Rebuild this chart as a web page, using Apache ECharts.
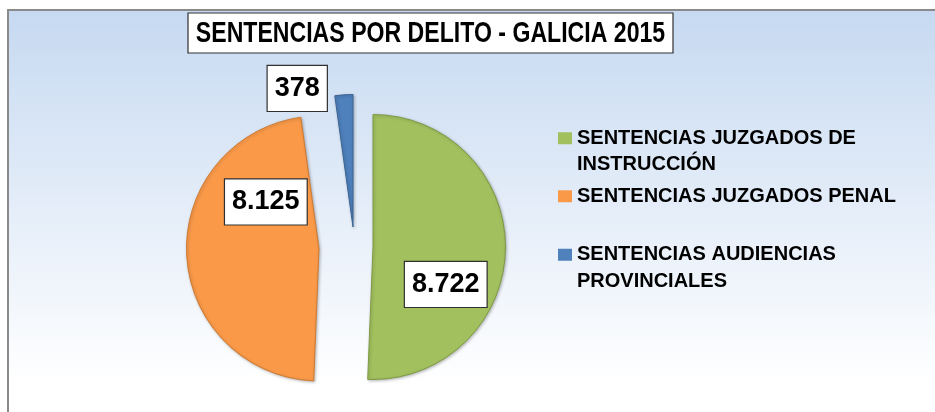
<!DOCTYPE html>
<html>
<head>
<meta charset="utf-8">
<script src="https://cdn.jsdelivr.net/npm/echarts@6/dist/echarts.min.js"></script>
<style>
  html, body { margin: 0; padding: 0; background: #ffffff; }
  #chart { width: 935px; height: 412px; }
</style>
</head>
<body>
<div id="chart"></div>
<script>
// ---- data ----
const titleText = 'SENTENCIAS POR DELITO - GALICIA 2015';
const categories = [
  'SENTENCIAS JUZGADOS DE INSTRUCCIÓN',
  'SENTENCIAS JUZGADOS PENAL',
  'SENTENCIAS AUDIENCIAS PROVINCIALES'
];
const legendLabels = [
  'SENTENCIAS JUZGADOS DE\nINSTRUCCIÓN',
  'SENTENCIAS JUZGADOS PENAL',
  'SENTENCIAS AUDIENCIAS\nPROVINCIALES'
];
const values = [8722, 8125, 378];

// ---- style ----
const colors = ['#A2C15E', '#FA9A49', '#4F81BD'];
const borderColors = ['#7F9A45', '#D07A30', '#3B6596'];
const sliceCenters = [[373, 247], [319, 248.5], [353, 227]];
const labelShift = [[3.5, 36], [16, -50], [-51, -69.5]];
const legendTops = [125, 183, 241.5];
const sans = "'Liberation Sans', Arial, sans-serif";

function fmt(v) {
  return String(v).replace(/\B(?=(\d{3})+(?!\d))/g, '.');
}

const chart = echarts.init(document.getElementById('chart'), null, { renderer: 'canvas' });

const series = categories.map(function (_, si) {
  return {
    type: 'pie',
    name: 'slice' + si,
    radius: 132.5,
    center: sliceCenters[si],
    startAngle: 90,
    clockwise: true,
    avoidLabelOverlap: false,
    animation: false,
    silent: true,
    labelLine: { show: false },
    emphasis: { disabled: true },
    labelLayout: function (p) {
      return { dx: labelShift[p.dataIndex][0], dy: labelShift[p.dataIndex][1] };
    },
    data: categories.map(function (name, i) {
      const own = i === si;
      return {
        name: name,
        value: values[i],
        itemStyle: own
          ? { color: colors[i], borderColor: borderColors[i], borderWidth: 1,
              shadowBlur: 3, shadowColor: 'rgba(0,0,0,0.25)', shadowOffsetX: 1, shadowOffsetY: 1 }
          : { color: 'rgba(0,0,0,0)', borderWidth: 0 },
        label: own
          ? {
              show: true,
              position: 'inside',
              formatter: function (p) { return fmt(p.value); },
              fontFamily: sans,
              fontWeight: 'bold',
              fontSize: 27,
              lineHeight: 27,
              color: '#000',
              backgroundColor: '#fff',
              borderColor: '#303030',
              borderWidth: 1.2,
              padding: [9, 7, 9, 7]
            }
          : { show: false }
      };
    })
  };
});

// legend icons: square aligned with the first text line
const iconOneLine = 'path://M0,0L14,0 M0,7.25L14,7.25L14,19.25L0,19.25Z M0,26.5L14,26.5';
const iconTwoLine = 'path://M0,0L14,0L14,12L0,12Z M0,38.5L14,38.5';

const legends = categories.map(function (name, i) {
  const twoLine = legendLabels[i].indexOf('\n') >= 0;
  return {
    orient: 'vertical',
    left: 558,
    top: legendTops[i],
    padding: 0,
    itemWidth: 14,
    itemHeight: twoLine ? 38.5 : 26.5,
    selectedMode: false,
    formatter: function (n) { return legendLabels[categories.indexOf(n)]; },
    textStyle: {
      fontFamily: sans,
      fontWeight: 'bold',
      fontSize: 20,
      lineHeight: 26.5,
      color: '#000'
    },
    data: [{
      name: name,
      icon: twoLine ? iconTwoLine : iconOneLine,
      itemStyle: { color: colors[i], borderWidth: 0 }
    }]
  };
});

const option = {
  backgroundColor: '#ffffff',
  animation: false,
  graphic: [{
    type: 'rect',
    z: -10,
    silent: true,
    shape: { x: 8, y: 10, width: 960, height: 440 },
    style: {
      fill: new echarts.graphic.LinearGradient(0, 0, 0, 1, [
        { offset: 0, color: '#C6D9F1' },
        { offset: 0.85, color: '#FFFFFF' },
        { offset: 1, color: '#FFFFFF' }
      ]),
      stroke: '#8A8A8A',
      lineWidth: 2
    }
  }, {
    type: 'group',
    x: 188,
    y: 13,
    z: 10,
    silent: true,
    children: [{
      type: 'rect',
      shape: { x: 0, y: 0, width: 485, height: 40 },
      style: { fill: '#ffffff', stroke: '#303030', lineWidth: 1.2 }
    }, {
      type: 'text',
      x: 242.5,
      y: 21,
      scaleX: 0.77,
      style: {
        text: titleText,
        fontFamily: sans,
        fontWeight: 'bold',
        fontSize: 30,
        fill: '#000',
        align: 'center',
        verticalAlign: 'middle'
      }
    }]
  }],
  legend: legends,
  series: series
};

chart.setOption(option);
</script>
</body>
</html>
